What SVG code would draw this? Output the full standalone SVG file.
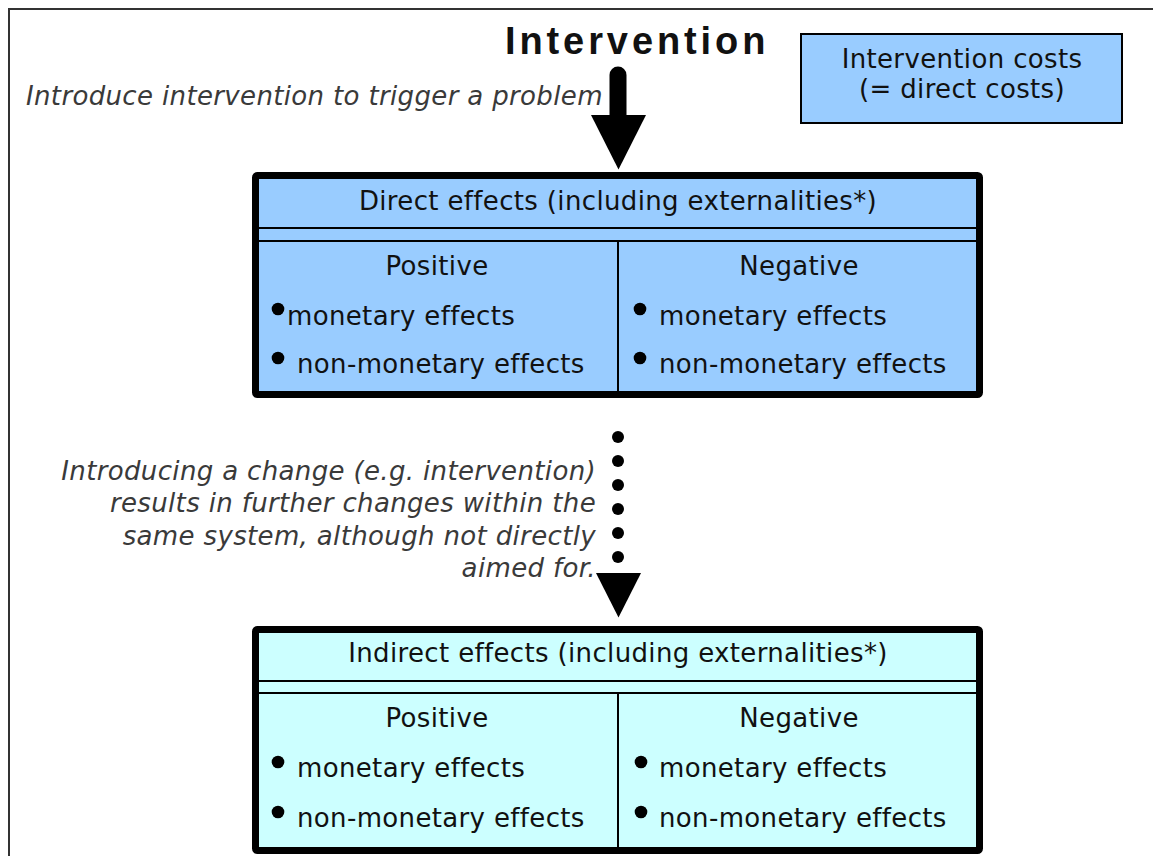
<svg xmlns="http://www.w3.org/2000/svg" width="1153" height="856" viewBox="0 0 1153 856">
  <style>
    .t { font-family: "DejaVu Sans", Verdana, sans-serif; font-size: 26px; letter-spacing: 0.35px; fill: #111; }
    .note { font-family: "DejaVu Sans", Verdana, sans-serif; font-size: 26px; letter-spacing: 0.35px; font-style: italic; fill: #3a3a3a; }
    .mid { text-anchor: middle; }
    .end { text-anchor: end; }
    .panel { stroke: #000; stroke-width: 7; stroke-linejoin: round; }
    .direct { fill: #99ccff; }
    .indirect { fill: #ccffff; }
    .rule { stroke: #000; stroke-width: 2; fill: none; }
    .dot { fill: #000; }
  </style>

  <!-- page frame -->
  <rect x="9" y="9" width="1152" height="860" fill="#fff" stroke="#333" stroke-width="2"/>

  <!-- title -->
  <g id="title">
    <text x="505" y="54" font-family="'Liberation Sans', Arial, sans-serif" font-weight="bold" font-size="38" letter-spacing="3.9" fill="#111">Intervention</text>
  </g>

  <!-- cost box -->
  <g id="costs">
    <rect x="801" y="34" width="321" height="89" class="direct" stroke="#000" stroke-width="2"/>
    <text x="962" y="68" class="t mid">Intervention costs</text>
    <text x="962" y="98" class="t mid">(= direct costs)</text>
  </g>

  <!-- side notes -->
  <g id="note-trigger">
    <text x="26" y="105" class="note">Introduce intervention to trigger a problem</text>
  </g>
  <g id="note-change">
    <text x="596" y="480" class="note end">Introducing a change (e.g. intervention)</text>
    <text x="596" y="512" class="note end">results in further changes within the</text>
    <text x="596" y="545" class="note end">same system, although not directly</text>
    <text x="596" y="577" class="note end">aimed for.</text>
  </g>

  <!-- connectors -->
  <g id="connectors">
    <line x1="618" y1="75" x2="618" y2="118" stroke="#000" stroke-width="17" stroke-linecap="round"/>
    <polygon points="591,115 646,115 618.5,169.5" fill="#000"/>
    <circle class="dot" cx="618" cy="437" r="6"/>
    <circle class="dot" cx="618" cy="461" r="6"/>
    <circle class="dot" cx="618" cy="485" r="6"/>
    <circle class="dot" cx="618" cy="509" r="6"/>
    <circle class="dot" cx="618" cy="533" r="6"/>
    <circle class="dot" cx="618" cy="557" r="6"/>
    <polygon points="596,573 641,573 618.5,617.5" fill="#000"/>
  </g>

  <!-- direct effects -->
  <g id="direct-effects">
    <rect x="255.5" y="175.5" width="724" height="219" rx="2" class="panel direct"/>
    <line x1="259" y1="228" x2="976" y2="228" class="rule"/>
    <line x1="259" y1="241" x2="976" y2="241" class="rule"/>
    <line x1="618" y1="241" x2="618" y2="391" class="rule"/>
    <text x="618" y="210" class="t mid">Direct effects (including externalities*)</text>
    <text x="437" y="275" class="t mid">Positive</text>
    <text x="799" y="275" class="t mid">Negative</text>
    <circle class="dot" cx="278" cy="309" r="6.3"/>
    <text x="287" y="325" class="t">monetary effects</text>
    <circle class="dot" cx="278" cy="358" r="6.3"/>
    <text x="297" y="373" class="t">non-monetary effects</text>
    <circle class="dot" cx="640" cy="309" r="6.3"/>
    <text x="659" y="325" class="t">monetary effects</text>
    <circle class="dot" cx="640" cy="358" r="6.3"/>
    <text x="659" y="373" class="t">non-monetary effects</text>
  </g>

  <!-- indirect effects -->
  <g id="indirect-effects">
    <rect x="255.5" y="629.5" width="724" height="221" rx="2" class="panel indirect"/>
    <line x1="259" y1="681" x2="976" y2="681" class="rule"/>
    <line x1="259" y1="693" x2="976" y2="693" class="rule"/>
    <line x1="618" y1="693" x2="618" y2="847" class="rule"/>
    <text x="618" y="662" class="t mid">Indirect effects (including externalities*)</text>
    <text x="437" y="727" class="t mid">Positive</text>
    <text x="799" y="727" class="t mid">Negative</text>
    <circle class="dot" cx="278" cy="762" r="6.3"/>
    <text x="297" y="777" class="t">monetary effects</text>
    <circle class="dot" cx="278" cy="812" r="6.3"/>
    <text x="297" y="827" class="t">non-monetary effects</text>
    <circle class="dot" cx="641" cy="762" r="6.3"/>
    <text x="659" y="777" class="t">monetary effects</text>
    <circle class="dot" cx="641" cy="812" r="6.3"/>
    <text x="659" y="827" class="t">non-monetary effects</text>
  </g>
</svg>
